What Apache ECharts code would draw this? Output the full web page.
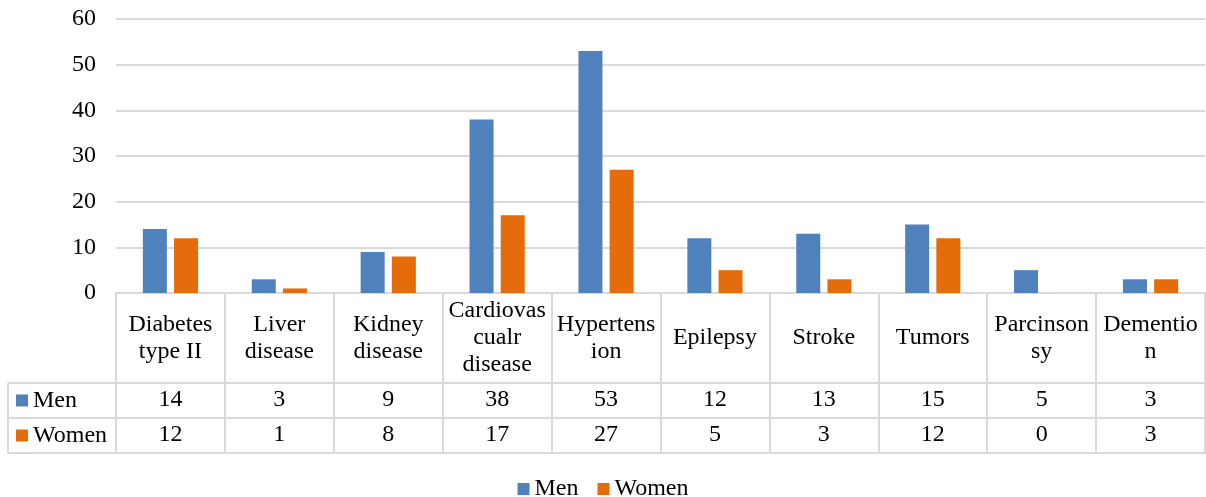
<!DOCTYPE html>
<html>
<head>
<meta charset="utf-8">
<script src="https://cdn.jsdelivr.net/npm/echarts@6/dist/echarts.min.js"></script>
<style>
  html, body { margin: 0; padding: 0; background: #fff; }
  #chart { width: 1206px; height: 497px; }
</style>
</head>
<body>
<div id="chart"></div>
<script>
const categories = ['Diabetes\ntype II', 'Liver\ndisease', 'Kidney\ndisease', 'Cardiovas\ncualr\ndisease',
  'Hypertens\nion', 'Epilepsy', 'Stroke', 'Tumors', 'Parcinson\nsy', 'Dementio\nn']
const men = [14, 3, 9, 38, 53, 12, 13, 15, 5, 3]
const women = [12, 1, 8, 17, 27, 5, 3, 12, 0, 3]
const seriesNames = ['Men', 'Women']
const colors = ['#4f81bd', '#e46c0a']

const FONT = '"Liberation Serif", "Times New Roman", serif'
const GRID_COLOR = '#d9d9d9'
const axisTop = 293 // y of value 0
const rowTops = [383, 418, 453]

const chart = echarts.init(document.getElementById('chart'))

// one hidden-line x axis per table row, labels pushed down by margin
function rowAxis(values, margin) {
  return {
    type: 'category',
    data: categories,
    position: 'bottom',
    axisLine: { show: false },
    axisTick: { show: false },
    axisLabel: {
      interval: 0,
      margin: margin,
      verticalAlign: 'middle',
      fontFamily: FONT,
      fontSize: 24,
      color: '#000',
      formatter: function(v, i) { return String(values[i]) }
    }
  }
}

const tableGraphics = []
rowTops.forEach(function(y) {
  tableGraphics.push({
    type: 'line',
    shape: { x1: 8, y1: y, x2: 1206, y2: y },
    style: { stroke: GRID_COLOR, lineWidth: 2 },
    silent: true
  })
})
tableGraphics.push({
  type: 'line',
  shape: { x1: 8, y1: rowTops[0], x2: 8, y2: rowTops[2] },
  style: { stroke: GRID_COLOR, lineWidth: 2 },
  silent: true
})
seriesNames.forEach(function(name, i) {
  const cy = (rowTops[i] + rowTops[i + 1]) / 2
  tableGraphics.push({
    type: 'rect',
    shape: { x: 16, y: cy - 6, width: 12, height: 12 },
    style: { fill: colors[i] },
    silent: true
  })
  tableGraphics.push({
    type: 'text',
    x: 33,
    y: cy,
    style: {
      text: name,
      font: '24px ' + FONT,
      fill: '#000',
      verticalAlign: 'middle'
    },
    silent: true
  })
})

chart.setOption({
  animation: false,
  textStyle: { fontFamily: FONT },
  color: colors,
  grid: { left: 116, right: 1, top: 19, bottom: 497 - axisTop, containLabel: false },
  legend: {
    data: seriesNames,
    left: 'center',
    top: 472,
    icon: 'rect',
    itemWidth: 12,
    itemHeight: 12,
    itemGap: 19,
    textStyle: { fontFamily: FONT, fontSize: 24, color: '#000' }
  },
  xAxis: [
    {
      type: 'category',
      data: categories,
      position: 'bottom',
      axisLine: { show: true, lineStyle: { color: GRID_COLOR, width: 2 } },
      axisTick: {
        show: true,
        interval: 0,
        length: rowTops[2] - axisTop,
        lineStyle: { color: GRID_COLOR, width: 2 }
      },
      axisLabel: {
        interval: 0,
        margin: 45,
        verticalAlign: 'middle',
        lineHeight: 27,
        fontFamily: FONT,
        fontSize: 24,
        color: '#000'
      }
    },
    rowAxis(men, 107),
    rowAxis(women, 142)
  ],
  yAxis: {
    type: 'value',
    min: 0,
    max: 60,
    interval: 10,
    axisLine: { show: false },
    axisTick: { show: false },
    splitLine: { lineStyle: { color: GRID_COLOR, width: 2 } },
    axisLabel: { margin: 20, fontFamily: FONT, fontSize: 24, color: '#000' }
  },
  series: [
    {
      name: 'Men',
      type: 'bar',
      data: men,
      barWidth: 24,
      barGap: '30%',
      itemStyle: { color: colors[0] }
    },
    {
      name: 'Women',
      type: 'bar',
      data: women,
      barWidth: 24,
      barGap: '30%',
      itemStyle: { color: colors[1] }
    }
  ],
  graphic: tableGraphics
})
</script>
</body>
</html>
